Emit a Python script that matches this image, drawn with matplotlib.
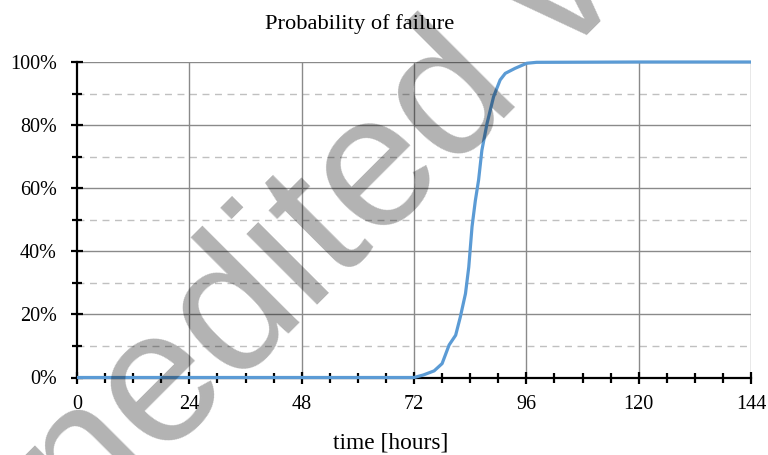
import matplotlib
matplotlib.use("Agg")
import matplotlib.pyplot as plt
from matplotlib.ticker import MultipleLocator, FuncFormatter

# Data
hours = [0, 24, 48, 72, 74, 76.3, 78.0, 79.5, 80.9, 81.9, 83.0, 83.7, 84.4, 85.1,
         85.8, 86.5, 87.6, 89.0, 90.4, 91.5, 93.6, 96.1, 98.2, 120, 144]
prob = [0, 0, 0, 0, 0.8, 2.1, 4.4, 10.3, 13.4, 19.2, 26.6, 35.0, 47.8, 56.0,
        62.6, 72.0, 80.5, 89.0, 94.3, 96.4, 98.0, 99.6, 99.9, 100, 100]
x_ticks = [0, 24, 48, 72, 96, 120, 144]
y_ticks = [0, 20, 40, 60, 80, 100]

title = "Probability of failure"
xlabel = "time [hours]"
watermark = "Unedited version"

W, H = 768, 455
fig = plt.figure(figsize=(W / 100, H / 100), dpi=100)
serif = ["Liberation Serif", "DejaVu Serif"]

left, right = 77 / W, 751 / W
bottom, top = 1 - 377.5 / H, 1 - 62 / H
ax = fig.add_axes([left, bottom, right - left, top - bottom])

ax.set_xlim(0, 144)
ax.set_ylim(0, 100)

# grid
ax.set_xticks(x_ticks)
ax.set_yticks(y_ticks)
ax.xaxis.set_minor_locator(MultipleLocator(6))
ax.yaxis.set_minor_locator(MultipleLocator(10))
for yv in y_ticks[1:]:
    ax.axhline(yv, color="#8a8a8a", lw=1.0, zorder=1)
for yv in range(10, 100, 20):
    ax.axhline(yv, color="#c0c0c0", lw=1.0, ls=(0, (5, 4)), zorder=1)
for xv in x_ticks[1:]:
    ax.axvline(xv, color="#8a8a8a", lw=1.0, zorder=1)

ax.plot(hours, prob, color="#5B9BD5", lw=2.3, zorder=3, clip_on=False,
        solid_capstyle="butt", solid_joinstyle="round")

for s in ["top", "right"]:
    ax.spines[s].set_visible(False)
for s in ["left", "bottom"]:
    ax.spines[s].set_linewidth(1.6)
    ax.spines[s].set_color("black")
    ax.spines[s].set_zorder(2)

ax.tick_params(axis="both", which="major", direction="inout", length=9,
               width=1.6, color="black", labelsize=14.5)
ax.tick_params(axis="both", which="minor", direction="inout", length=7,
               width=1.6, color="black")
ax.tick_params(axis="x", which="major", pad=8)
ax.tick_params(axis="y", which="major", pad=10)
ax.yaxis.set_major_formatter(FuncFormatter(lambda v, p: f"{int(v)}%"))
for lab in ax.get_xticklabels() + ax.get_yticklabels():
    lab.set_family(serif)

fig.text(360 / W, 1 - 29 / H, title, ha="center", va="baseline",
         fontsize=16.2, family=serif)
fig.text(390.5 / W, 1 - 448 / H, xlabel, ha="center", va="baseline",
         fontsize=16.8, family=serif)

# watermark
fig.text(-10 / W, 1 - 633 / H, watermark, rotation=45, rotation_mode="anchor",
         ha="left", va="baseline", fontsize=136, family=["Liberation Sans", "DejaVu Sans"],
         color="black", alpha=0.3, zorder=10)

fig.savefig("out.png", dpi=100)
